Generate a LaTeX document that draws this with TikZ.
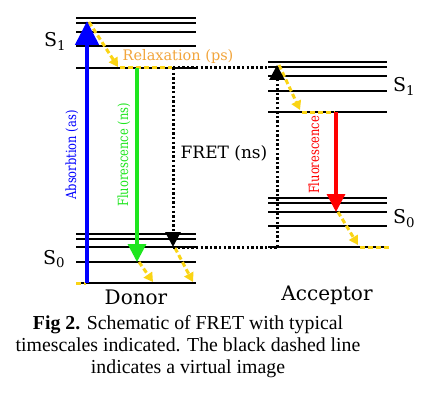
\documentclass[tikz,border=0pt]{standalone}
\usepackage{fontspec}
\setmainfont{Liberation Serif}
\newfontfamily\lbl{DejaVu Serif}
\newfontfamily\lblc[FakeStretch=0.82]{DejaVu Serif}
\usetikzlibrary{arrows.meta}
\definecolor{myyellow}{RGB}{250,212,20}
\definecolor{myorange}{RGB}{242,165,60}
\definecolor{mygreen}{RGB}{30,230,30}
\tikzset{
  level/.style={line width=1.8pt, black},
  relax/.style={myyellow, line width=3pt, dash pattern=on 5pt off 3pt},
  relaxarrow/.style={relax, -{Triangle[length=9pt,width=10pt]}},
  virt/.style={black, line width=3pt, dash pattern=on 2.4pt off 2.2pt},
  virtarrow/.style={virt, -{Triangle[length=15pt,width=15pt]}},
  absarrow/.style={blue, line width=4.8pt, -{Triangle[length=24pt,width=23pt]}},
  fluoarrow/.style={line width=3.2pt, -{Triangle[length=18pt,width=18pt]}},
  lab/.style={inner sep=0pt, font=\lblc\fontsize{14}{16}\selectfont},
  slab/.style={inner sep=0pt, font=\lbl\fontsize{19}{21}\selectfont},
}
\begin{document}
\begin{tikzpicture}[x=1pt,y=-1pt]
\useasboundingbox (0,0) rectangle (430,401);
\fill[white] (0,0) rectangle (430,401);
% energy levels
\foreach \y in {18,23,32,46,68,234,239,247,262,283} \draw[level] (76,\y) -- (196,\y);
\foreach \y in {62,67,76,91,112,198,203,212,226,247} \draw[level] (268,\y) -- (387,\y);
% coordinates
\coordinate (absA) at (87,283);
\coordinate (absB) at (87,21);
\coordinate (rd1) at (89,22);
\coordinate (rd2) at (118,67);
\coordinate (rh1) at (120,68);
\coordinate (rh2) at (172,68);
\coordinate (fa) at (173,68);
\coordinate (fb) at (268,68);
\coordinate (fv) at (173,247);
\coordinate (fh) at (277,247);
\coordinate (av) at (277,65);
\coordinate (g1) at (137,68);
\coordinate (g2) at (137,262);
\coordinate (gy1) at (139,262);
\coordinate (gy2) at (153,282);
\coordinate (by1) at (175,248);
\coordinate (by2) at (193,282);
\coordinate (sy1) at (76,283);
\coordinate (sy2) at (86,283);
\coordinate (ay1) at (279,65);
\coordinate (ay2) at (300,110);
\coordinate (ah1) at (302,112);
\coordinate (ah2) at (335,112);
\coordinate (r1) at (336,112);
\coordinate (r2) at (336,212);
\coordinate (ry1) at (338,212);
\coordinate (ry2) at (358,245);
\coordinate (rh3) at (360,247);
\coordinate (rh4) at (390,247);
% relaxation
\draw[relaxarrow] (rd1) -- (rd2);
\draw[relax] (rh1) -- (rh2);
\draw[relaxarrow] (gy1) -- (gy2);
\draw[relaxarrow] (by1) -- (by2);
\draw[relax] (sy1) -- (sy2);
\draw[relaxarrow] (ay1) -- (ay2);
\draw[relax] (ah1) -- (ah2);
\draw[relaxarrow] (ry1) -- (ry2);
\draw[relax] (rh3) -- (rh4);
% FRET virtual
\draw[virt] (fa) -- (fb);
\draw[virtarrow] (fa) -- (fv);
\draw[virt] (fv) -- (fh);
\draw[virtarrow] (fh) -- (av);
% main arrows
\draw[absarrow] (absA) -- (absB);
\draw[fluoarrow, mygreen] (g1) -- (g2);
\draw[fluoarrow, red] (r1) -- (r2);
% labels
\node[lab, blue, rotate=90] (tabs) at (72,155) {Absorbtion (as)};
\node[lab, mygreen, rotate=90] (tfd) at (124,155) {Fluorescence (ns)};
\node[lab, red, rotate=90] (tfa) at (314,155) {Fluorescence};
\node[lab, myorange, font=\lbl\fontsize{14.5}{16}\selectfont] (trel) at (178,57) {Relaxation (ps)};
\node[lab, font=\lbl\fontsize{17}{19}\selectfont] (tfret) at (224,153) {FRET (ns)};
\node[lab, font=\lbl\fontsize{20}{22}\selectfont] (tdon) at (136,297) {Donor};
\node[lab, font=\lbl\fontsize{20}{22}\selectfont] (tacc) at (327,295) {Acceptor};
\node[slab] (s1d) at (55,41) {S\textsubscript{1}};
\node[slab] (s0d) at (54,259) {S\textsubscript{0}};
\node[slab] (s1a) at (404,86) {S\textsubscript{1}};
\node[slab] (s0a) at (404,219) {S\textsubscript{0}};
\node[inner sep=0pt, align=center, font=\fontsize{19.8}{22}\selectfont] (cap) at (188,347)
  {\textbf{Fig 2.} Schematic of FRET with typical\\timescales indicated. The black dashed line\\indicates a virtual image};
\end{tikzpicture}
\end{document}
